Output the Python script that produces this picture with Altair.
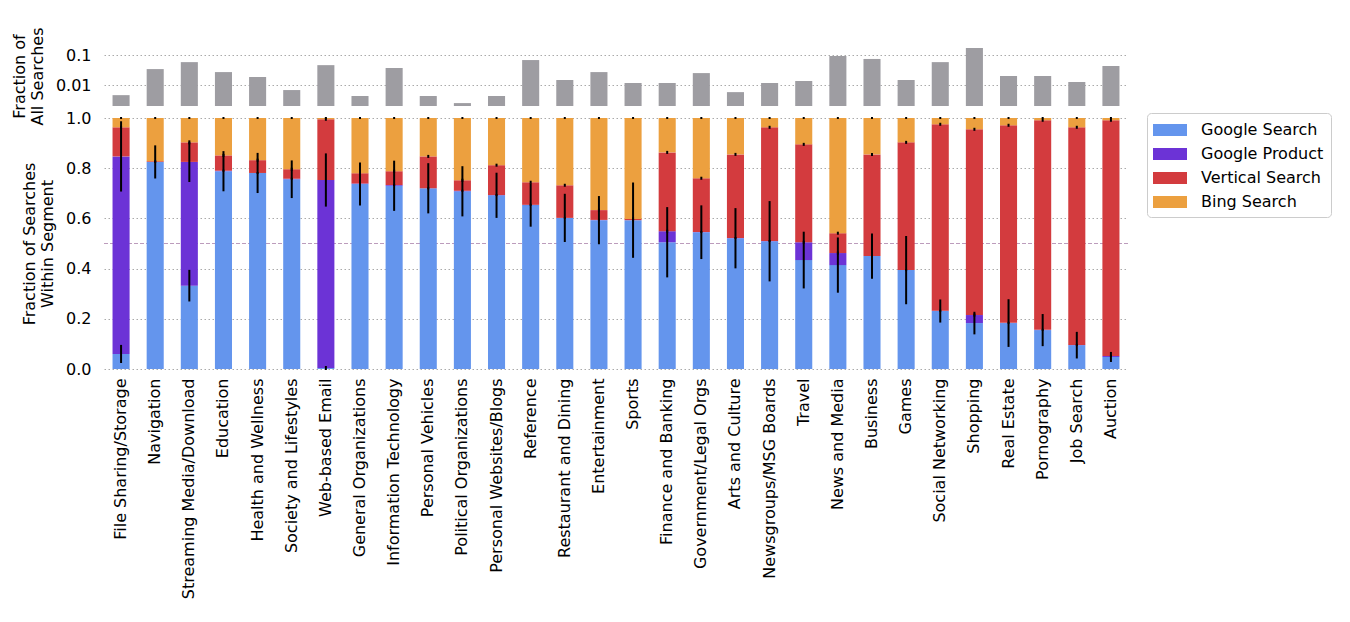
import altair as alt
import pandas as pd

categories = [
    "File Sharing/Storage", "Navigation", "Streaming Media/Download", "Education",
    "Health and Wellness", "Society and Lifestyles", "Web-based Email",
    "General Organizations", "Information Technology", "Personal Vehicles",
    "Political Organizations", "Personal Websites/Blogs", "Reference",
    "Restaurant and Dining", "Entertainment", "Sports", "Finance and Banking",
    "Government/Legal Orgs", "Arts and Culture", "Newsgroups/MSG Boards", "Travel",
    "News and Media", "Business", "Games", "Social Networking", "Shopping",
    "Real Estate", "Pornography", "Job Search", "Auction",
]

fraction_all = [
    0.0046, 0.034, 0.058, 0.027, 0.0185, 0.0068, 0.046, 0.0043, 0.037, 0.0043,
    0.0025, 0.0043, 0.068, 0.0147, 0.027, 0.0117, 0.0117, 0.025, 0.0058, 0.0117,
    0.0136, 0.093, 0.074, 0.0147, 0.058, 0.171, 0.020, 0.020, 0.0126, 0.043,
]

google_search = [
    0.060, 0.825, 0.332, 0.788, 0.781, 0.756, 0.004, 0.737, 0.730, 0.720,
    0.708, 0.692, 0.653, 0.602, 0.593, 0.593, 0.505, 0.545, 0.521, 0.509,
    0.434, 0.414, 0.450, 0.394, 0.231, 0.183, 0.183, 0.155, 0.095, 0.048,
]
google_product = [
    0.787, 0.000, 0.493, 0.002, 0.000, 0.002, 0.749, 0.002, 0.003, 0.000,
    0.002, 0.001, 0.001, 0.000, 0.001, 0.000, 0.044, 0.001, 0.001, 0.001,
    0.071, 0.048, 0.000, 0.000, 0.001, 0.032, 0.001, 0.001, 0.001, 0.004,
]
vertical_search = [
    0.116, 0.003, 0.078, 0.061, 0.051, 0.038, 0.242, 0.041, 0.055, 0.127,
    0.042, 0.119, 0.090, 0.130, 0.039, 0.005, 0.314, 0.214, 0.333, 0.453,
    0.390, 0.079, 0.405, 0.509, 0.743, 0.740, 0.787, 0.835, 0.867, 0.939,
]
bing_search = [
    0.037, 0.172, 0.097, 0.149, 0.168, 0.204, 0.005, 0.220, 0.212, 0.153,
    0.248, 0.188, 0.256, 0.268, 0.367, 0.402, 0.137, 0.240, 0.145, 0.037,
    0.105, 0.459, 0.145, 0.097, 0.025, 0.045, 0.029, 0.009, 0.037, 0.009,
]

err_google_search = [
    0.036, 0.066, 0.063, 0.080, 0.080, 0.075, 0.008, 0.086, 0.100, 0.100,
    0.100, 0.090, 0.086, 0.096, 0.096, 0.150, 0.140, 0.107, 0.120, 0.160,
    0.113, 0.110, 0.090, 0.136, 0.046, 0.045, 0.095, 0.064, 0.053, 0.020,
]
err_google_product = [
    0.140, 0.004, 0.080, 0.004, 0.004, 0.004, 0.106, 0.004, 0.004, 0.004,
    0.004, 0.004, 0.004, 0.004, 0.004, 0.004, 0.006, 0.004, 0.004, 0.004,
    0.006, 0.006, 0.004, 0.004, 0.004, 0.006, 0.004, 0.004, 0.004, 0.004,
]
err_vertical_search = [
    0.006, 0.004, 0.008, 0.006, 0.006, 0.006, 0.006, 0.006, 0.006, 0.006,
    0.006, 0.006, 0.006, 0.006, 0.006, 0.006, 0.006, 0.006, 0.006, 0.006,
    0.006, 0.006, 0.006, 0.006, 0.006, 0.006, 0.006, 0.006, 0.006, 0.006,
]
err_bing_search = [0.004] * 30

series = ["Google Search", "Google Product", "Vertical Search", "Bing Search"]
colors = ["#6495ED", "#6C33D6", "#D33B3E", "#ECA03F"]
reference_level = 0.5

values = [google_search, google_product, vertical_search, bing_search]
errors = [err_google_search, err_google_product, err_vertical_search, err_bing_search]

rows = []
for i, cat in enumerate(categories):
    cum = 0.0
    for k, name in enumerate(series):
        cum += values[k][i]
        e = errors[k][i]
        rows.append({"category": cat, "series": name, "order": k,
                     "value": values[k][i], "lo": cum - e, "hi": cum + e})
seg = pd.DataFrame(rows)
top_df = pd.DataFrame({"category": categories, "fraction": fraction_all})

FONT = "DejaVu Sans"
x_scale = alt.Scale(domain=categories, paddingInner=0.5, paddingOuter=0.25)

top = alt.Chart(top_df).mark_bar(color="#9E9DA2").encode(
    x=alt.X("category:N", scale=x_scale, sort=categories, axis=None),
    y=alt.Y("fraction:Q", stack=None,
            scale=alt.Scale(type="log", domain=[0.002, 0.2], nice=False),
            axis=alt.Axis(values=[0.01, 0.1], format="~g",
                          title=["Fraction of", "All Searches"])),
    y2=alt.value(60),
).properties(width=1024, height=60)

y_axis = alt.Axis(values=[0, 0.2, 0.4, 0.6, 0.8, 1.0], format=".1f",
                  title=["Fraction of Searches", "Within Segment"])
y_scale = alt.Scale(domain=[0, 1], nice=False)

half = alt.Chart(top_df).mark_rule(color="#BC9CBC", strokeDash=[4, 2], strokeWidth=1).encode(
    y=alt.datum(reference_level, scale=y_scale, axis=y_axis)
)

bars = alt.Chart(seg).mark_bar().encode(
    x=alt.X("category:N", scale=x_scale, sort=categories,
            axis=alt.Axis(title=None, labelAngle=270, labelPadding=9, labelLimit=0)),
    y=alt.Y("value:Q", stack="zero", scale=y_scale, axis=y_axis),
    color=alt.Color("series:N", scale=alt.Scale(domain=series, range=colors),
                    legend=alt.Legend(title=None, orient="none", legendX=1043, legendY=-5)),
    order=alt.Order("order:Q", sort="ascending"),
)

errbars = alt.Chart(seg).mark_rule(color="black", strokeWidth=2).encode(
    x=alt.X("category:N", scale=x_scale, sort=categories),
    y=alt.Y("lo:Q", scale=y_scale, axis=y_axis),
    y2="hi:Q",
)

bottom = alt.layer(half, bars, errbars).properties(width=1024, height=251)

chart = alt.vconcat(top, bottom, spacing=12, bounds="flush").resolve_legend(
    color="independent"
).properties(
    padding={"left": 11, "top": 26, "right": 5, "bottom": 5}
).configure(font=FONT).configure_view(stroke=None).configure_axis(
    labelFont=FONT, titleFont=FONT, labelFontSize=16, titleFontSize=16,
    titleFontWeight="normal", labelColor="black", titleColor="black",
    domain=False, ticks=False, tickSize=0, labelPadding=13, titlePadding=10,
    titleLineHeight=18, grid=True, gridColor="#AAAAAA", gridDash=[1.5, 2.5],
    gridWidth=1,
).configure_axisX(grid=False, labelPadding=9).configure_legend(
    padding=7, strokeColor="#CCCCCC", cornerRadius=4,
    fillColor="white", labelFont=FONT, labelFontSize=16, labelColor="black",
    symbolType="M-1.7,-0.6H1.7V0.6H-1.7Z", symbolSize=400, symbolStrokeWidth=0,
    symbolOpacity=1, symbolOffset=6, labelOffset=21, rowPadding=6,
)

chart.save("out.html", embed_options={"renderer": "svg", "actions": False})
